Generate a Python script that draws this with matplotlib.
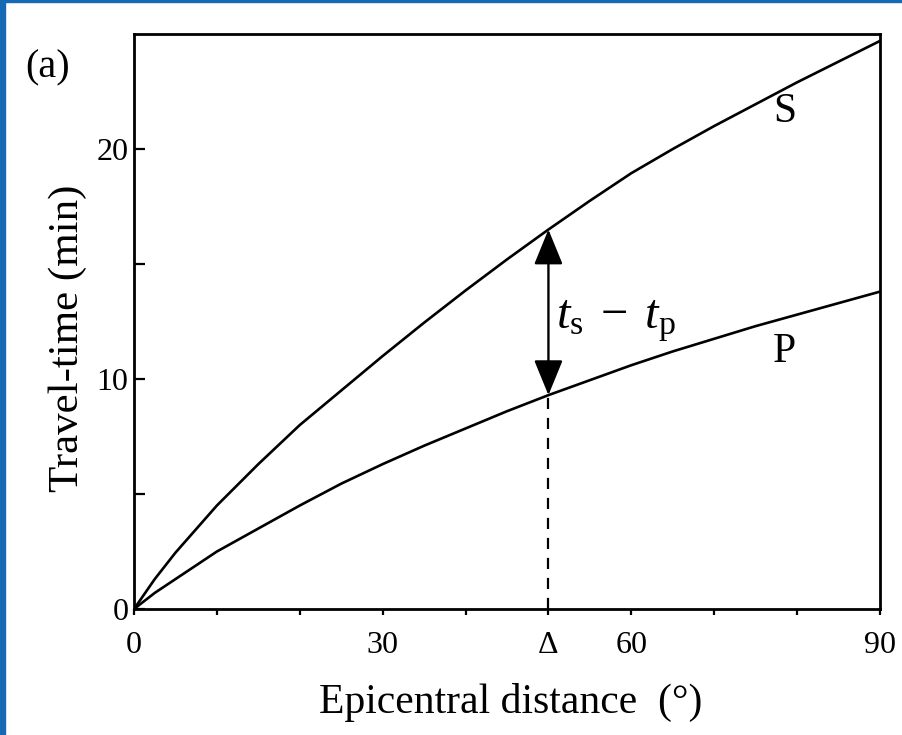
import numpy as np
import matplotlib
matplotlib.use('Agg')
import matplotlib.pyplot as plt
from matplotlib.patches import Rectangle

plt.rcParams['font.family'] = ['Liberation Serif', 'DejaVu Serif']
plt.rcParams['mathtext.fontset'] = 'custom'
plt.rcParams['mathtext.rm'] = 'Liberation Serif'
plt.rcParams['mathtext.it'] = 'Liberation Serif:italic'

# travel-time curves (degrees, minutes)
distance = [0, 2.5, 5, 10, 15, 20, 25, 30, 35, 40, 45, 50, 55, 60, 65, 70, 75, 80, 85, 90]
s_time = [0, 1.3, 2.45, 4.5, 6.3, 8.0, 9.5, 11.0, 12.45, 13.85, 15.2, 16.5,
          17.75, 18.95, 20.0, 21.0, 21.95, 22.9, 23.8, 24.7]
p_time = [0, 0.7, 1.3, 2.5, 3.5, 4.5, 5.45, 6.3, 7.1, 7.85, 8.6, 9.3,
          9.95, 10.6, 11.2, 11.75, 12.3, 12.8, 13.3, 13.8]

delta = 50
xticks = [0, 10, 20, 30, 40, 50, 60, 70, 80, 90]
xticklabels = ['0', '', '', '30', '', '\u0394', '60', '', '', '90']
yticks = [0, 5, 10, 15, 20]
yticklabels = ['0', '', '10', '', '20']

fig = plt.figure(figsize=(9.03, 7.35), dpi=100)
ax = fig.add_axes([0.1484, 0.1714, 0.8261, 0.7823])

ax.plot(distance, s_time, color='black', lw=1.9, solid_joinstyle='round')
ax.plot(distance, p_time, color='black', lw=1.9, solid_joinstyle='round')

s_d = s_time[distance.index(delta)]
p_d = p_time[distance.index(delta)]

ax.plot([delta, delta], [0, p_d], color='black', lw=1.6, linestyle=(0, (5, 4)))
ax.annotate('', xy=(delta, s_d), xytext=(delta, p_d),
            arrowprops=dict(arrowstyle='<|-|>,head_length=1.1,head_width=0.45',
                            mutation_scale=20, color='black', lw=1.7,
                            shrinkA=0, shrinkB=0))

ax.text(50.9, 12.5, r'$t_{\rm s}\;-\;t_{\rm p}$', fontsize=35, va='center', ha='left')
ax.text(78.5, 21.6, 'S', fontsize=30, ha='center', va='center')
ax.text(78.5, 11.2, 'P', fontsize=30, ha='center', va='center')

ax.set_xlim(0, 90)
ax.set_ylim(0, 25)
ax.set_xticks(xticks)
ax.set_xticklabels(xticklabels, fontsize=23)
ax.set_yticks(yticks)
ax.set_yticklabels(yticklabels, fontsize=23)
ax.tick_params(axis='x', direction='out', length=4.5, width=1.6, pad=11)
ax.tick_params(axis='y', direction='in', length=8, width=1.6, pad=4)
for sp in ax.spines.values():
    sp.set_linewidth(2.0)

ax.set_xlabel('Epicentral distance  (\u00b0)', fontsize=30)
ax.xaxis.set_label_coords(0.505, -0.128)
ax.set_ylabel('Travel-time (min)', fontsize=31)
ax.yaxis.set_label_coords(-0.063, 0.47)

fig.text(48 / 903, 1 - 68 / 735, '(a)', fontsize=29, ha='center', va='center')

# blue frame edges
fig.patches.append(Rectangle((0, 0), 5 / 903, 1, transform=fig.transFigure,
                             color='#1669b3', zorder=10))
fig.patches.append(Rectangle((0, 1 - 2 / 735), 1, 2 / 735, transform=fig.transFigure,
                             color='#1669b3', zorder=10))

fig.savefig('out.png', dpi=100)
